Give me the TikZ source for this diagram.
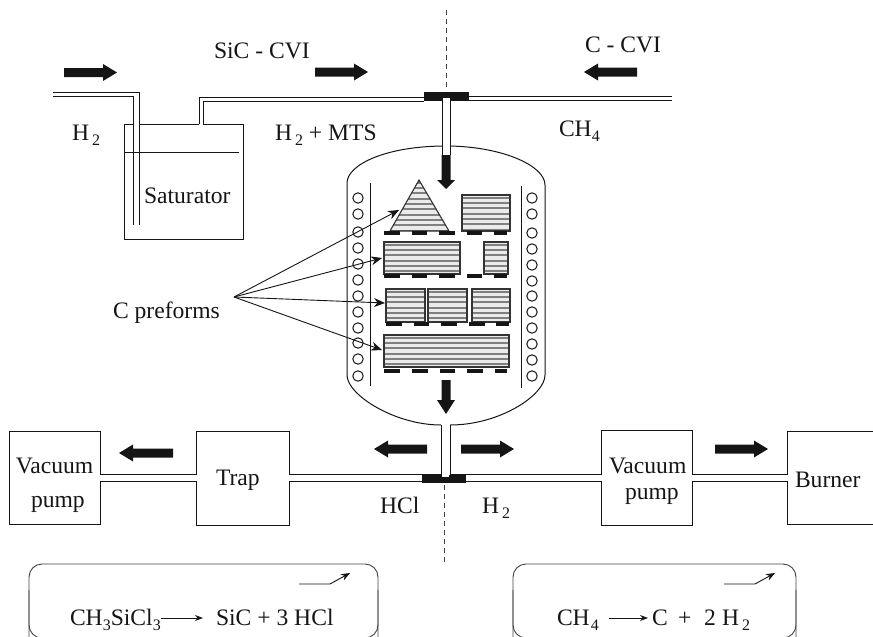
\documentclass[tikz,border=0pt]{standalone}
\usepackage{fontspec}
\setmainfont{Liberation Serif}
\usetikzlibrary{arrows.meta}
\definecolor{inkc}{HTML}{151515}
\newcommand{\dn}[2][0pt]{\kern#1\raisebox{-5pt}{\fontsize{16}{16}\selectfont #2}}
\newcommand{\arrH}[4]{\fill[inkc] (#1,#4-4.5) -- (#2,#4-4.5) -- (#2,#4-8.5) -- (#3,#4) -- (#2,#4+8.5) -- (#2,#4+4.5) -- (#1,#4+4.5) -- cycle;}
\newcommand{\arrD}[4]{\fill[inkc] (#4-4.5,#1) -- (#4-4.5,#2) -- (#4-9,#2) -- (#4,#3) -- (#4+9,#2) -- (#4+4.5,#2) -- (#4+4.5,#1) -- cycle;}
\newcommand{\stripes}[2]{\fill[black!8] (300,#1) rectangle (600,#1+60);\foreach \i in {1,...,11}{\pgfmathsetmacro\yy{#1+(\i-0.5)*5.33}\draw[stripe] (300,\yy) -- (600,\yy);}}
\newcommand{\hblock}[4]{\begin{scope}\clip (#1,#2) rectangle (#3,#4);\stripes{#2}{}\end{scope}\draw[blockedge] (#1,#2) rectangle (#3,#4);}
\newcommand{\feet}[3]{\foreach \a/\b in {#3}{\fill[inkc] (\a,#1) rectangle (\b,#2);}}
\tikzset{
 x=1pt,y=-1pt,
 lbl/.style={inner sep=0pt,outer sep=0pt,anchor=base west,font=\fontsize{23.6}{24}\selectfont,text=inkc},
 pipe/.style={draw=inkc,line width=0.9pt},
 thin1/.style={draw=inkc,line width=0.9pt},
 stripe/.style={draw=black!50,line width=2.2pt},
 blockedge/.style={draw=black!80,line width=1.1pt},
 coil/.style={draw=inkc,line width=1pt},
 pointer/.style={draw=inkc,line width=0.9pt,-{Stealth[length=11pt,width=9pt]}},
 rbox/.style={draw=black!75,line width=0.9pt,rounded corners=13pt},
}
\begin{document}
\begin{tikzpicture}
\useasboundingbox (0,0) rectangle (873,637);
\clip (0,0) rectangle (873,637);
% centre dashed line
\draw[draw=black!75,line width=1pt,dash pattern=on 5pt off 4pt] (446,10) -- (446,91);
\draw[draw=black!75,line width=1pt,dash pattern=on 5pt off 4pt] (444.5,485) -- (444.5,565);
% saturator
\draw[thin1] (133,124) -- (124,124) -- (124,239) -- (243,239) -- (243,124) -- (203,124);
\draw[thin1] (199,124) -- (140,124);
\draw[thin1] (124,152) -- (239,152);
\draw[pipe] (53,92) -- (139,92) -- (139,225);
\draw[pipe] (53,96) -- (133,96) -- (133,225);
\draw[pipe] (199,124) -- (199,97) -- (424,97);
\draw[pipe] (203,124) -- (203,101) -- (424,101);
% top pipe
\draw[pipe] (469,96) -- (672,96);
\draw[pipe] (469,100) -- (672,100);
% vessel
\draw[draw=inkc,line width=1pt] (347,375) -- (347,183) .. controls (347,165) and (385,146) .. (446,146) .. controls (500,146) and (545,165) .. (545,185) -- (545,375) .. controls (545,395) and (500,425) .. (450,425);
\draw[draw=inkc,line width=1pt] (441,425) .. controls (395,425) and (347,395) .. (347,375);
\draw[thin1] (370,183) -- (370,386);
\draw[thin1] (521,186) -- (521,388);
\foreach \y in {198,214,232,248,264,280,296,312,328,343,359,376}{\draw[coil] (358,\y) circle (5.2);}
\foreach \y in {198,214,233,249,265,281,296,312,328,344,360,376}{\draw[coil] (532,\y) circle (5.2);}
% inlet tube
\fill[white] (442,98) rectangle (450,155);
\draw[pipe] (442,98) -- (442,155);
\draw[pipe] (450,98) -- (450,155);
\fill[inkc] (424,92) rectangle (469,100.5);
\fill[white] (442.5,98) rectangle (449.5,102);
\arrD{155}{180}{189}{446}
% outlet
\fill[white] (441.5,420) rectangle (449.5,476);
\draw[pipe] (441,425) -- (441,475);
\draw[pipe] (450,425) -- (450,475);
\arrD{380}{400}{414}{446}
% bottom pipe
\draw[pipe] (289,474.5) -- (441,474.5);
\draw[pipe] (450,474.5) -- (601,474.5);
\draw[pipe] (289,481) -- (601,481);
\fill[inkc] (422,475) rectangle (466,483);
\fill[white] (441.8,474) rectangle (449.2,477);
\draw[pipe] (100,474.5) -- (196,474.5);
\draw[pipe] (100,481) -- (196,481);
\draw[pipe] (692,474.5) -- (787,474.5);
\draw[pipe] (692,481) -- (787,481);
% boxes
\draw[thin1] (100,474.5) -- (100,431) -- (9,431) -- (9,524) -- (100,524) -- (100,481);
\draw[thin1] (196,474.5) -- (196,431) -- (289,431) -- (289,474.5);
\draw[thin1] (196,481) -- (196,525) -- (289,525) -- (289,481);
\draw[thin1] (601,474.5) -- (601,430) -- (692,430) -- (692,474.5);
\draw[thin1] (601,481) -- (601,525) -- (692,525) -- (692,481);
\draw[thin1] (787,474.5) -- (787,431) -- (875,431);
\draw[thin1] (787,481) -- (787,524) -- (875,524);
% preforms
\begin{scope}
\clip (419,180) -- (390,231) -- (449,231) -- cycle;
\stripes{180}{}
\end{scope}
\draw[blockedge] (419,180) -- (390,231) -- (449,231) -- cycle;
\hblock{462}{195}{510}{231}
\hblock{384}{242}{460}{274}
\hblock{484}{242}{508}{274}
\hblock{386}{289}{425}{322}
\hblock{428}{289}{467}{322}
\hblock{472}{289}{510}{322}
\hblock{384}{335}{509}{367}
\feet{231}{234.5}{384.3/400,411.7/427.3,439.3/455,466.7/482.3,494.3/507.3}
\feet{274}{278}{384.3/400,411.7/427.3,439.3/455,467/482.3,494.3/507.3}
\feet{322}{325.5}{386/401.7,413.7/429.3,441.3/457,469/484.7,496.3/509.3}
\feet{369}{373}{384.3/400,412/428,439.7/455.3,467.3/483,495/507.3}
% flow arrows
\arrH{64}{103}{117}{72.5}
\arrH{315}{354}{368}{72}
\arrH{637}{598}{584}{72}
\arrH{427}{388}{374}{449}
\arrH{461}{500}{514}{449}
\arrH{173}{133}{119}{453}
\arrH{715}{754}{768}{449}
% labels
\node[lbl] (h2a) at (72,140) {H\dn[3pt]{2}};
\node[lbl] (sic) at (214,58) {SiC - CVI};
\node[lbl] (ccvi) at (585,52) {C - CVI};
\node[lbl] (mts) at (275,140) {H\dn[3pt]{2}\ + MTS};
\node[lbl] (ch4) at (559,136) {CH\dn{4}};
\node[lbl] (sat) at (144,203) {Saturator};
\node[lbl] (pre) at (113,318) {C preforms};
\node[lbl] (vac1) at (16,473) {Vacuum};
\node[lbl] (pump1) at (31,507) {pump};
\node[lbl] (trap) at (216,485) {Trap};
\node[lbl] (hcl) at (380,513) {HCl};
\node[lbl] (h2b) at (482,513) {H\dn[3pt]{2}};
\node[lbl] (vac2) at (609,473) {Vacuum};
\node[lbl] (pump2) at (625,499) {pump};
\node[lbl] (burn) at (795,487) {Burner};
% pointers
\coordinate (hub) at (234,297);
\draw[pointer] (hub) -- (399,210);
\draw[pointer] (hub) -- (382,258);
\draw[pointer] (hub) -- (385,303);
\draw[pointer] (hub) -- (382,350);
% reaction boxes
\draw[rbox] (29,660) -- (29,564) -- (378,564) -- (378,660);
\draw[rbox] (513,660) -- (513,564) -- (796,564) -- (796,660);
\draw[rbox,rounded corners=13pt] (29,590) -- (29,638) -- (378,638) -- (378,590);
\draw[rbox,rounded corners=13pt] (513,590) -- (513,638) -- (796,638) -- (796,590);
\draw[draw=inkc,line width=0.9pt,-{Stealth[length=9pt,width=7pt]}] (299,584) -- (330,584) -- (350,573);
\draw[draw=inkc,line width=0.9pt,-{Stealth[length=9pt,width=7pt]}] (724,584) -- (755,584) -- (775,573);
\node[lbl] (eq1a) at (70,625) {CH\dn{3}SiCl\dn{3}};
\node[lbl] (eq1b) at (216,625) {SiC + 3 HCl};
\draw[draw=inkc,line width=0.9pt,-{Stealth[length=8pt,width=6pt]}] (eq1a.base east |- 0,618) -- (203,618);
\node[lbl] (eq2a) at (557,625) {CH\dn[1pt]{4}};
\node[lbl] (eq2b) at (652,625) {C};
\node[lbl] (eq2c) at (678,625) {+};
\node[lbl] (eq2d) at (704,625) {2};
\node[lbl] (eq2e) at (722,625) {H\dn[3pt]{2}};
\draw[draw=inkc,line width=0.9pt,-{Stealth[length=8pt,width=6pt]}] (609,618) -- (648,618);
\end{tikzpicture}
\end{document}
